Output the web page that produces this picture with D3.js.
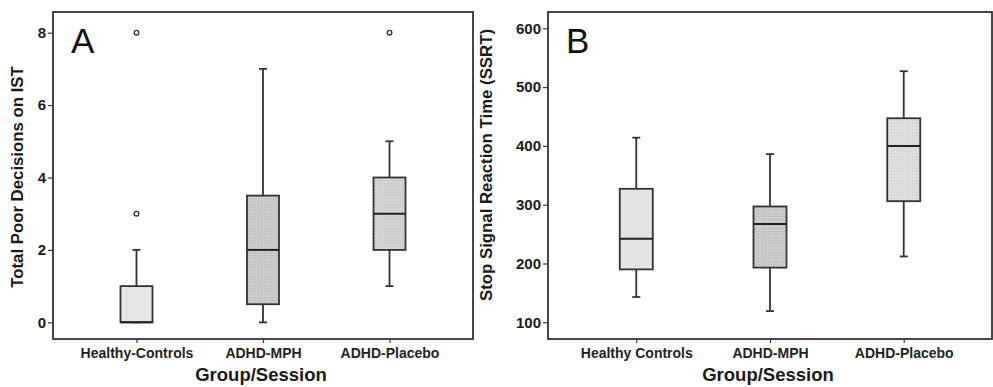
<!DOCTYPE html>
<html>
<head>
<meta charset="utf-8">
<script src="https://cdn.jsdelivr.net/npm/d3@7"></script>
<style>
  body { margin: 0; background: #fff; }
  svg text { font-family: "Liberation Sans", Arial, sans-serif; fill: #1a1a1a; }
</style>
</head>
<body>
<svg id="chart" width="993" height="387"></svg>
<script>
// panel A: IST poor decisions
const groupsA = ["Healthy-Controls", "ADHD-MPH", "ADHD-Placebo"];
const istLo = [0, 0, 1];
const istQ1 = [0, 0.5, 2];
const istMed = [0, 2, 3];
const istQ3 = [1, 3.5, 4];
const istHi = [2, 7, 5];
const istOut = [[3, 8], [], [8]];
const ticksA = [0, 2, 4, 6, 8];

// panel B: SSRT
const groupsB = ["Healthy Controls", "ADHD-MPH", "ADHD-Placebo"];
const ssrtLo = [143, 119, 212];
const ssrtQ1 = [190, 193, 306];
const ssrtMed = [242, 267, 400];
const ssrtQ3 = [327, 297, 447];
const ssrtHi = [414, 386, 527];
const ssrtOut = [[], [], []];
const ticksB = [100, 200, 300, 400, 500, 600];

const svg = d3.select("#chart");

// dotted fills
const defs = svg.append("defs");
function dotPattern(id, bg, dot) {
  const p = defs.append("pattern")
    .attr("id", id)
    .attr("width", 3).attr("height", 3)
    .attr("patternUnits", "userSpaceOnUse");
  p.append("rect").attr("width", 3).attr("height", 3).attr("fill", bg);
  p.append("rect").attr("width", 1).attr("height", 1).attr("fill", dot);
}
dotPattern("dotMph", "#cbcbcb", "#b4b4b4");
dotPattern("dotPlaA", "#d4d4d4", "#c0c0c0");
dotPattern("dotPlaB", "#dedede", "#cbcbcb");

function drawPanel(cfg) {
  const x = d3.scalePoint()
    .domain(cfg.groups)
    .range([cfg.left, cfg.right])
    .padding(0.66);

  const y = d3.scaleLinear()
    .domain(cfg.yDomain)
    .range([cfg.bottom, cfg.top]);

  const g = svg.append("g");

  // frame
  g.append("rect")
    .attr("x", cfg.left)
    .attr("y", cfg.top)
    .attr("width", cfg.right - cfg.left)
    .attr("height", cfg.bottom - cfg.top)
    .attr("fill", "none")
    .attr("stroke", "#333")
    .attr("stroke-width", 1.8);

  const yAxis = g.append("g")
    .attr("transform", "translate(" + cfg.left + ",0)")
    .call(d3.axisLeft(y).tickValues(cfg.ticks).tickSize(5).tickSizeOuter(0));
  yAxis.select(".domain").remove();
  yAxis.selectAll("line").attr("stroke", "#3a3a3a").attr("stroke-width", 1.2);
  yAxis.selectAll("text")
    .attr("x", -7)
    .style("font-size", "15px")
    .style("font-weight", "bold");

  const xAxis = g.append("g")
    .attr("transform", "translate(0," + cfg.bottom + ")")
    .call(d3.axisBottom(x).tickSize(4).tickSizeOuter(0));
  xAxis.select(".domain").remove();
  xAxis.selectAll("line").attr("stroke", "#3a3a3a").attr("stroke-width", 1.2);
  xAxis.selectAll("text")
    .attr("y", 9)
    .style("font-size", "14px")
    .style("font-weight", "bold")
    .style("fill", "#222");

  g.append("text")
    .attr("x", (cfg.left + cfg.right) / 2 - 2)
    .attr("y", 381)
    .attr("text-anchor", "middle")
    .style("font-size", "18.5px")
    .style("font-weight", "bold")
    .text("Group/Session");

  g.append("text")
    .attr("transform", "translate(" + cfg.yLabelX + "," + cfg.yLabelY + ") rotate(-90)")
    .attr("text-anchor", "middle")
    .style("font-size", "16.8px")
    .style("font-weight", "bold")
    .text(cfg.yLabel);

  g.append("text")
    .attr("x", cfg.left + 18)
    .attr("y", 53)
    .style("font-size", "35px")
    .style("fill", "#111")
    .text(cfg.letter);

  const bw = cfg.boxWidth;
  const cap = 8;
  const stroke = "#333";

  cfg.groups.forEach((name, i) => {
    const cx = x(name);
    // whisker
    g.append("line")
      .attr("x1", cx).attr("x2", cx)
      .attr("y1", y(cfg.lo[i])).attr("y2", y(cfg.hi[i]))
      .attr("stroke", stroke).attr("stroke-width", 1.8);
    [cfg.lo[i], cfg.hi[i]].forEach(v => {
      g.append("line")
        .attr("x1", cx - cap / 2).attr("x2", cx + cap / 2)
        .attr("y1", y(v)).attr("y2", y(v))
        .attr("stroke", stroke).attr("stroke-width", 1.8);
    });
    // box
    g.append("rect")
      .attr("x", cx - bw / 2)
      .attr("y", y(cfg.q3[i]))
      .attr("width", bw)
      .attr("height", y(cfg.q1[i]) - y(cfg.q3[i]))
      .attr("fill", cfg.fills[i])
      .attr("stroke", stroke)
      .attr("stroke-width", 1.8);
    g.append("line")
      .attr("x1", cx - bw / 2).attr("x2", cx + bw / 2)
      .attr("y1", y(cfg.med[i])).attr("y2", y(cfg.med[i]))
      .attr("stroke", "#222").attr("stroke-width", 2);
    cfg.out[i].forEach(v => {
      g.append("circle")
        .attr("cx", cx).attr("cy", y(v))
        .attr("r", 2.3)
        .attr("fill", "#fff")
        .attr("stroke", "#333")
        .attr("stroke-width", 1.4);
    });
  });
}

drawPanel({
  groups: groupsA, lo: istLo, q1: istQ1, med: istMed, q3: istQ3, hi: istHi, out: istOut,
  ticks: ticksA, yDomain: [-0.46, 8.57],
  left: 53, right: 473, top: 12, bottom: 339,
  boxWidth: 32, letter: "A",
  yLabel: "Total Poor Decisions on IST", yLabelX: 23, yLabelY: 177,
  fills: ["#e6e6e6", "url(#dotMph)", "url(#dotPlaA)"]
});

drawPanel({
  groups: groupsB, lo: ssrtLo, q1: ssrtQ1, med: ssrtMed, q3: ssrtQ3, hi: ssrtHi, out: ssrtOut,
  ticks: ticksB, yDomain: [71.6, 627.7],
  left: 548, right: 992, top: 12, bottom: 339,
  boxWidth: 33, letter: "B",
  yLabel: "Stop Signal Reaction Time (SSRT)", yLabelX: 492, yLabelY: 165,
  fills: ["#e4e4e4", "url(#dotMph)", "url(#dotPlaB)"]
});
</script>
</body>
</html>
